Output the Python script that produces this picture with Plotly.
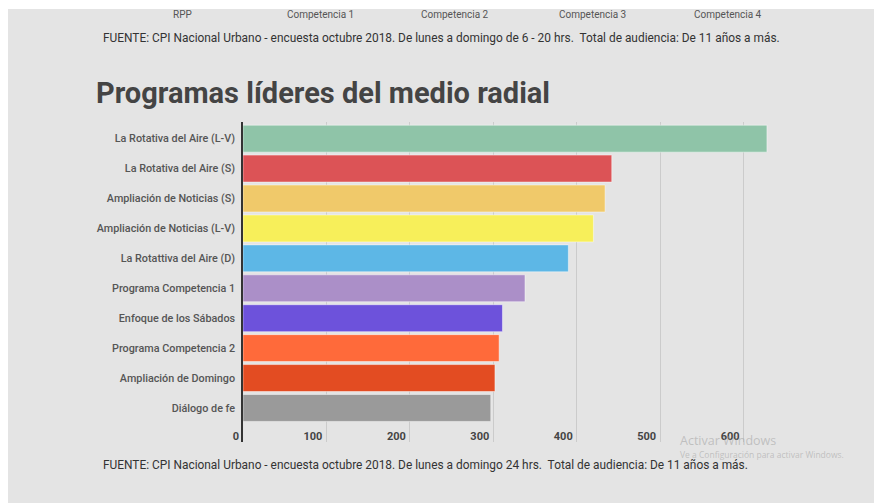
import plotly.graph_objects as go

categories = [
    "La Rotativa del Aire (L-V)",
    "La Rotativa del Aire (S)",
    "Ampliación de Noticias (S)",
    "Ampliación de Noticias (L-V)",
    "La Rotattiva del Aire (D)",
    "Programa Competencia 1",
    "Enfoque de los Sábados",
    "Programa Competencia 2",
    "Ampliación de Domingo",
    "Diálogo de fe",
]
values = [628, 442, 434, 420, 390, 338, 311, 307, 302, 297]
bar_colors = ["#8fc4a8", "#dc5356", "#f0c96a", "#f7ef5a", "#5db7e6",
              "#ab8fc8", "#6d52db", "#ff6a3a", "#e34c22", "#9a9a9a"]
legend_labels = ["RPP", "Competencia 1", "Competencia 2", "Competencia 3", "Competencia 4"]
x_ticks = [0, 100, 200, 300, 400, 500, 600]
title_text = "Programas líderes del medio radial"
source_top = "FUENTE: CPI Nacional Urbano - encuesta octubre 2018. De lunes a domingo de 6 - 20 hrs.  Total de audiencia: De 11 años a más."
source_bottom = "FUENTE: CPI Nacional Urbano - encuesta octubre 2018. De lunes a domingo 24 hrs.  Total de audiencia: De 11 años a más."

# page body has an 8px margin: build the figure in page pixels minus that offset
OFF = 8
W, H = 882 - OFF, 503 - OFF
L, R, T, B = 242.5 - OFF, 55, 122 - OFF, 61
PW, PH = W - L - R, H - T - B


def px(x):
    return (x - OFF - L) / PW


def py(y):
    return 1 - (y - OFF - T) / PH


FONT = "Roboto"
BG = "#e4e4e4"

fig = go.Figure(go.Bar(
    x=values,
    y=categories,
    orientation="h",
    marker=dict(color=bar_colors, line=dict(color="rgba(255,255,255,0.45)", width=1)),
    hoverinfo="x+y",
))

annotations = []
legend_x = [182, 320, 455, 592, 728]
for lx, lab in zip(legend_x, legend_labels):
    annotations.append(dict(x=px(lx), y=py(15), xref="paper", yref="paper", text=lab,
                            showarrow=False, xanchor="center", yanchor="middle",
                            font=dict(family=FONT, size=10, color="#555555")))
annotations.append(dict(x=px(100), y=py(38), xref="paper", yref="paper", text=source_top,
                        showarrow=False, xanchor="left", yanchor="middle",
                        font=dict(family=FONT, size=11.9, color="#333333")))
annotations.append(dict(x=px(100), y=py(465), xref="paper", yref="paper", text=source_bottom,
                        showarrow=False, xanchor="left", yanchor="middle",
                        font=dict(family=FONT, size=11.9, color="#333333")))
annotations.append(dict(x=px(678), y=py(440), xref="paper", yref="paper", text="Activar Windows",
                        showarrow=False, xanchor="left", yanchor="middle",
                        font=dict(family="Open Sans", size=12.5, color="rgba(160,160,160,0.55)")))
annotations.append(dict(x=px(678), y=py(454), xref="paper", yref="paper",
                        text="Ve a Configuración para activar Windows.",
                        showarrow=False, xanchor="left", yanchor="middle",
                        font=dict(family="Open Sans", size=8.5, color="rgba(160,160,160,0.55)")))

fig.update_layout(
    width=W, height=H,
    margin=dict(l=L, r=R, t=T, b=B, pad=0),
    paper_bgcolor=BG,
    plot_bgcolor="rgba(0,0,0,0)",
    bargap=0.1,
    showlegend=False,
    title=dict(text=title_text, xref="container", yref="container",
               x=(96 - OFF) / W, y=1 - (93 - OFF) / H, xanchor="left", yanchor="middle",
               font=dict(family=FONT, size=29, color="#444444", weight="bold")),
    shapes=[dict(type="rect", xref="paper", yref="paper", x0=px(0), x1=px(890),
                 y0=py(9), y1=py(0), fillcolor="white", line=dict(width=0), layer="below")],
    annotations=annotations,
    xaxis=dict(range=[0, 700], tickvals=x_ticks, showgrid=True, gridcolor="#cbcbcb", gridwidth=1,
               zeroline=False, showline=False, ticks="",
               ticklabelposition="inside left", ticklabeloverflow="allow",
               ticklabelstandoff=-6, ticklabelshift=-4,
               tickfont=dict(family=FONT, size=11, color="#444444", weight="bold")),
    yaxis=dict(categoryorder="array", categoryarray=categories,
               range=[10.138, -0.557], showgrid=False, zeroline=False,
               showline=True, linecolor="#333333", linewidth=1.5,
               ticks="outside", ticklen=4, tickcolor="rgba(0,0,0,0)",
               tickfont=dict(family=FONT, size=10.8, color="#555555", weight=500)),
)

fig.write_html("out.html", config={"displayModeBar": False})
